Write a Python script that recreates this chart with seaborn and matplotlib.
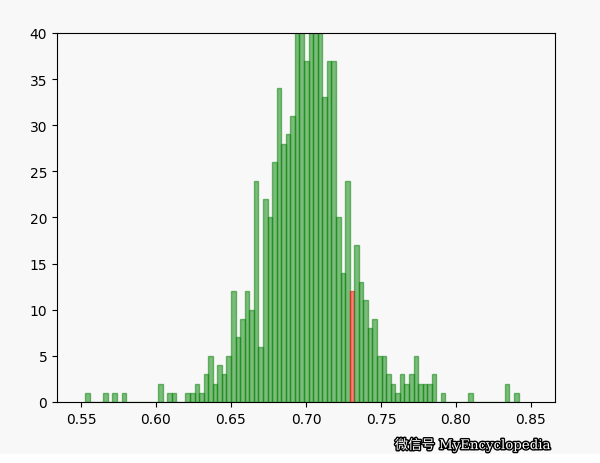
import numpy as np
import pandas as pd
import matplotlib
matplotlib.use('Agg')
import matplotlib.pyplot as plt
import matplotlib.patheffects as pe
from matplotlib.patches import Rectangle
from matplotlib.colors import to_rgba
import seaborn as sns

# Histogram counts per bin, bins of equal width
counts = [1, 0, 0, 0, 1, 0, 1, 0, 1, 0,
          0, 0, 0, 0, 0, 0, 2, 0, 1, 1,
          0, 0, 1, 1, 2, 1, 3, 5, 2, 4,
          3, 5, 12, 7, 9, 12, 10, 24, 6, 22,
          20, 26, 34, 28, 29, 31, 41, 43, 37, 42,
          44, 41, 33, 37, 37, 20, 14, 24, 12, 17,
          13, 11, 8, 9, 5, 5, 3, 2, 1, 3,
          2, 3, 5, 2, 2, 2, 3, 0, 1, 0,
          0, 0, 0, 0, 1, 0, 0, 0, 0, 0,
          0, 0, 2, 0, 1]
bin_start = 0.55268
bin_width = 0.003042
highlight_bin = 58  # the bar drawn in red

edges = bin_start + bin_width * np.arange(len(counts) + 1)
df = pd.DataFrame({'value': (edges[:-1] + edges[1:]) / 2, 'count': counts})

bg = '#f8f8f8'
fig = plt.figure(figsize=(6.0, 4.64), dpi=100, facecolor=bg)
ax = fig.add_axes([0.095, 0.1315, 0.83, 0.7955])
ax.set_facecolor(bg)

sns.histplot(data=df, x='value', weights='count', bins=len(counts),
             binrange=(edges[0], edges[-1]), ax=ax,
             color='green', alpha=0.5,
             edgecolor=to_rgba('green', 0.5), linewidth=1)

red_bar = ax.patches[highlight_bin]
red_bar.set_facecolor(to_rgba('red', 0.5))
red_bar.set_edgecolor(to_rgba('red', 0.5))

ax.set_xlim(0.534, 0.866)
ax.set_ylim(0, 40)
ax.set_xticks([0.55, 0.60, 0.65, 0.70, 0.75, 0.80, 0.85])
ax.set_yticks(range(0, 41, 5))
ax.set_xlabel('')
ax.set_ylabel('')

# white strip at the bottom of the screenshot
fig.patches.append(Rectangle((0, 0), 1, 9 / 464, transform=fig.transFigure,
                             facecolor='white', edgecolor='none', zorder=0))

fig.text(0.658, 0.03, '微信号 MyEncyclopedia', fontsize=9.6, color='white',
         family=['DejaVu Serif', 'Noto Sans CJK SC'],
         path_effects=[pe.withStroke(linewidth=2, foreground='black')])

fig.savefig('out.png', dpi=100, facecolor=bg)
